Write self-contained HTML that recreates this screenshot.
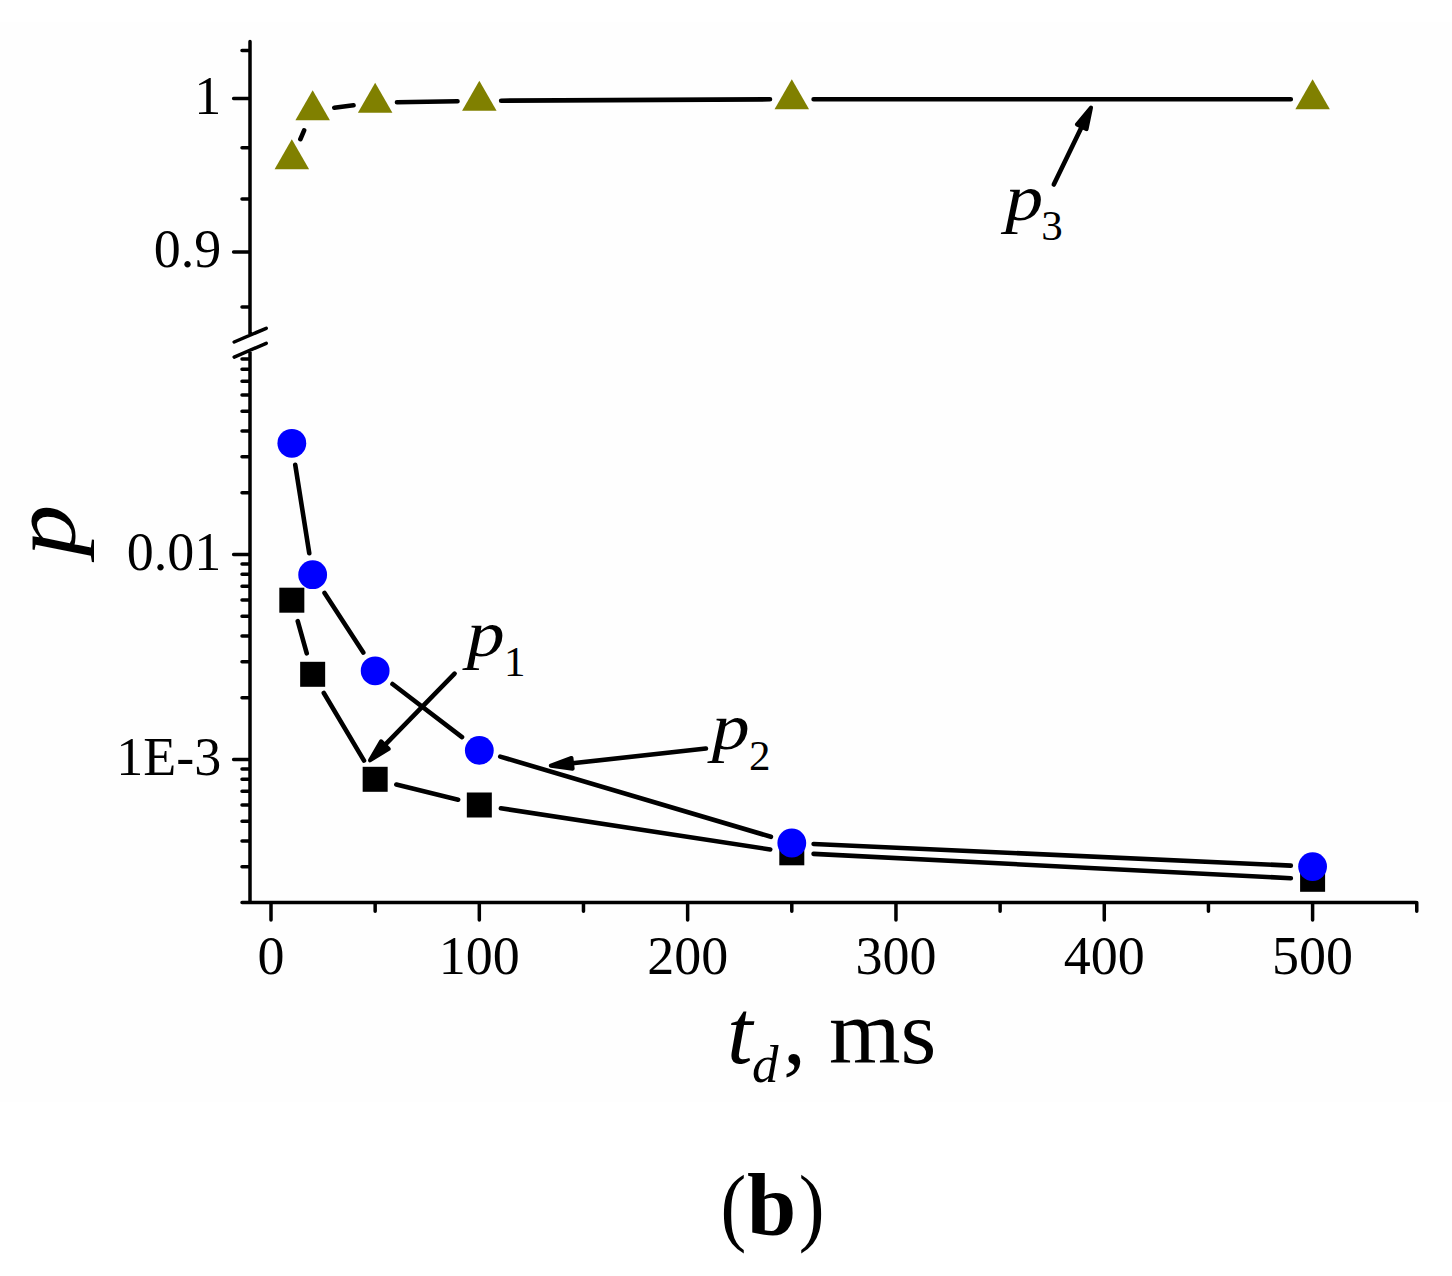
<!DOCTYPE html><html><head><meta charset="utf-8"><style>html,body{margin:0;padding:0;background:#fff;}svg{display:block;}text{font-family:"Liberation Serif",serif;fill:#000;}</style></head><body><svg width="1452" height="1276" viewBox="0 0 1452 1276"><rect width="1452" height="1276" fill="#fff"/><rect y="22" width="1452" height="1080" fill="#fefefe"/><path d="M250 41.5L250 335.2M250 350.3L250 902.5M250 902.5L1415.6 902.5M233.6 98.4L250 98.4M233.6 251.92L250 251.92M242 50.62L250 50.62M242 147.8L250 147.8M242 198.93L250 198.93M242 306.91L250 306.91M233.6 554.5L250 554.5M233.6 759.5L250 759.5M242 492.79L250 492.79M242 456.69L250 456.69M242 431.08L250 431.08M242 411.21L250 411.21M242 394.98L250 394.98M242 381.25L250 381.25M242 369.37L250 369.37M242 358.88L250 358.88M242 697.79L250 697.79M242 661.69L250 661.69M242 636.08L250 636.08M242 616.21L250 616.21M242 599.98L250 599.98M242 586.25L250 586.25M242 574.37L250 574.37M242 563.88L250 563.88M242 902.5L250 902.5M242 866.69L250 866.69M242 841.08L250 841.08M242 821.21L250 821.21M242 804.98L250 804.98M242 791.25L250 791.25M242 779.37L250 779.37M242 768.88L250 768.88M271 902.5L271 920M375.16 902.5L375.16 911.3M479.32 902.5L479.32 920M583.48 902.5L583.48 911.3M687.64 902.5L687.64 920M791.8 902.5L791.8 911.3M895.96 902.5L895.96 920M1000.12 902.5L1000.12 911.3M1104.28 902.5L1104.28 920M1208.44 902.5L1208.44 911.3M1312.6 902.5L1312.6 920M1416.76 902.5L1416.76 911.3M234.2 342L266.2 328.3M234.2 357.1L266.2 343.3" stroke="#000" stroke-width="3.5" stroke-linecap="round" fill="none"/><text x="271" y="973.5" font-size="54" text-anchor="middle">0</text><text x="479.32" y="973.5" font-size="54" text-anchor="middle">100</text><text x="687.64" y="973.5" font-size="54" text-anchor="middle">200</text><text x="895.96" y="973.5" font-size="54" text-anchor="middle">300</text><text x="1104.28" y="973.5" font-size="54" text-anchor="middle">400</text><text x="1312.6" y="973.5" font-size="54" text-anchor="middle">500</text><text x="221.3" y="113.7" font-size="54" text-anchor="end">1</text><text x="221.3" y="267" font-size="54" text-anchor="end">0.9</text><text x="221.3" y="569.8" font-size="54" text-anchor="end">0.01</text><text x="221.3" y="774.7" font-size="54" text-anchor="end">1E-3</text><path d="M297.73 621.19L306.76 653.31M323.81 693.03L364.01 760.57M396.33 784.52L458.15 799.78M500.87 808.3L770.25 849.5M813.57 853.91L1290.83 878.19" stroke="#000" stroke-width="4.6" stroke-linecap="round" fill="none"/><rect x="279.33" y="587.7" width="25" height="25" fill="#000"/><rect x="300.16" y="661.8" width="25" height="25" fill="#000"/><rect x="362.66" y="766.8" width="25" height="25" fill="#000"/><rect x="466.82" y="792.5" width="25" height="25" fill="#000"/><rect x="779.3" y="840.3" width="25" height="25" fill="#000"/><rect x="1300.1" y="866.8" width="25" height="25" fill="#000"/><path d="M295.25 464.83L309.25 553.17M324.55 592.98L363.28 652.52M392.48 684.04L462 737.16M500.22 756.59L770.9 836.81M813.58 843.99L1290.82 865.61" stroke="#000" stroke-width="4.6" stroke-linecap="round" fill="none"/><circle cx="291.83" cy="443.3" r="14.4" fill="#0000ff"/><circle cx="312.66" cy="574.7" r="14.4" fill="#0000ff"/><circle cx="375.16" cy="670.8" r="14.4" fill="#0000ff"/><circle cx="479.32" cy="750.4" r="14.4" fill="#0000ff"/><circle cx="791.8" cy="843" r="14.4" fill="#0000ff"/><circle cx="1312.6" cy="866.6" r="14.4" fill="#0000ff"/><path d="M300.36 139.24L304.13 130.36M334.3 107.67L353.52 105.33M396.96 102.3L457.52 101.2M501.12 100.69L770 99.31M813.6 99.2L1290.8 99.2" stroke="#000" stroke-width="4.6" stroke-linecap="round" fill="none"/><path d="M291.83 139.3L309.08 169.3L274.58 169.3Z" fill="#808000"/><path d="M312.66 90.3L329.91 120.3L295.41 120.3Z" fill="#808000"/><path d="M375.16 82.7L392.41 112.7L357.91 112.7Z" fill="#808000"/><path d="M479.32 80.8L496.57 110.8L462.07 110.8Z" fill="#808000"/><path d="M791.8 79.2L809.05 109.2L774.55 109.2Z" fill="#808000"/><path d="M1312.6 79.2L1329.85 109.2L1295.35 109.2Z" fill="#808000"/><path d="M454.59 673.65L383.54 746.48" stroke="#000" stroke-width="4.6" stroke-linecap="round" fill="none"/><path d="M370 760.37L381.07 741.28L388.81 748.82Z" fill="#000" stroke="#000" stroke-width="4" stroke-linejoin="round"/><path d="M705.91 748.55L570.07 763.55" stroke="#000" stroke-width="4.6" stroke-linecap="round" fill="none"/><path d="M550.79 765.68L571.47 757.96L572.65 768.7Z" fill="#000" stroke="#000" stroke-width="4" stroke-linejoin="round"/><path d="M1053.8 184.53L1082.59 124.97" stroke="#000" stroke-width="4.6" stroke-linecap="round" fill="none"/><path d="M1091.03 107.5L1086.58 129.12L1076.86 124.42Z" fill="#000" stroke="#000" stroke-width="4" stroke-linejoin="round"/><text transform="translate(466.7 655.55) scale(1.15 1)" font-size="66" font-style="italic">p</text><text x="503.9" y="675.8" font-size="43">1</text><text transform="translate(711.8 748.95) scale(1.15 1)" font-size="66" font-style="italic">p</text><text x="748.95" y="769.8" font-size="43">2</text><text transform="translate(1005.15 220.25) scale(1.15 1)" font-size="66" font-style="italic">p</text><text x="1041.2" y="240.1" font-size="43">3</text><text x="727" y="1062.5" font-size="92" font-style="italic">t</text><text x="752" y="1081.5" font-size="53" font-style="italic">d</text><text x="783" y="1062.5" font-size="92">,</text><text x="829" y="1062.5" font-size="92">ms</text><text transform="translate(75.1 556.2) rotate(-90) scale(1.146 1)" font-size="90" font-style="italic">p</text><text transform="translate(724 1234.5) scale(0.9 1)" x="-3.78" font-size="86">(</text><text x="747.1" y="1234.6" font-size="88.5" font-weight="bold">b</text><text transform="translate(801.2 1234.5) scale(0.9 1)" x="-2.77" font-size="86">)</text></svg></body></html>
